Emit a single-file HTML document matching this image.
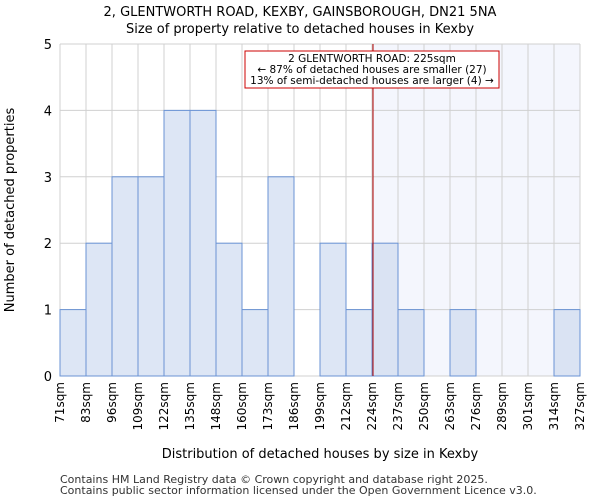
<!DOCTYPE html>
<html><head><meta charset="utf-8"><style>
body{margin:0;background:#fff;font-family:"DejaVu Sans","Liberation Sans",sans-serif}
</style></head><body>
<svg width="600" height="500" xmlns="http://www.w3.org/2000/svg" font-family="DejaVu Sans, Liberation Sans, sans-serif">
<text x="300" y="16" text-anchor="middle" font-size="13">2, GLENTWORTH ROAD, KEXBY, GAINSBOROUGH, DN21 5NA</text>
<text x="300" y="33" text-anchor="middle" font-size="13">Size of property relative to detached houses in Kexby</text>
<g id="plot"></g>
<text x="320" y="458" text-anchor="middle" font-size="13">Distribution of detached houses by size in Kexby</text>
<text transform="translate(14,210) rotate(-90)" text-anchor="middle" font-size="13">Number of detached properties</text>
<text x="60" y="483" font-size="11" fill="#333">Contains HM Land Registry data © Crown copyright and database right 2025.</text>
<text x="60" y="494" font-size="11" fill="#333">Contains public sector information licensed under the Open Government Licence v3.0.</text>
</svg>
<script>
const binLabels=["71sqm","83sqm","96sqm","109sqm","122sqm","135sqm","148sqm","160sqm","173sqm","186sqm","199sqm","212sqm","224sqm","237sqm","250sqm","263sqm","276sqm","289sqm","301sqm","314sqm","327sqm"];
const counts=[1,2,3,3,4,4,2,1,3,0,2,1,2,1,0,1,0,0,0,1];
const yTicks=[0,1,2,3,4,5];
const markerIndex=12;
const NS="http://www.w3.org/2000/svg";
const L=60,R=580,T=44,B=376,yMax=5;
const bw=(R-L)/counts.length;
const x=i=>L+i*bw, y=v=>B-(v/yMax)*(B-T);
const g=document.getElementById('plot');
function mk(tag,attrs){const e=document.createElementNS(NS,tag);for(const k in attrs)e.setAttribute(k,attrs[k]);g.appendChild(e);return e;}
let e=mk('rect',{x:x(markerIndex),y:T,width:R-x(markerIndex),height:B-T,fill:'#f4f6fd'});


for(let i=0;i<=counts.length;i++){e=mk('line',{x1:x(i),x2:x(i),y1:T,y2:B,stroke:'#d0d0d0','stroke-width':1});

}
yTicks.forEach(t=>{e=mk('line',{x1:L,x2:R,y1:y(t),y2:y(t),stroke:'#d0d0d0','stroke-width':1});


e=mk('text',{x:L-8,y:y(t)+5,'text-anchor':'end','font-size':13});e.textContent=t;

});
counts.forEach((c,i)=>{if(c<=0)return;e=mk('rect',{x:x(i),y:y(c),width:bw,height:B-y(c),fill:i>=markerIndex?'#dae3f3':'#dde6f5',stroke:'#6a93d4','stroke-width':1});

});
binLabels.forEach((lb,i)=>{e=mk('text',{transform:`translate(${x(i)+4},${B+6}) rotate(-90)`,'text-anchor':'end','font-size':12});e.textContent=lb;

});
e=mk('line',{x1:x(markerIndex)+1,x2:x(markerIndex)+1,y1:T,y2:B,stroke:'#b00000','stroke-width':1});


e=mk('rect',{x:245,y:51,width:254,height:37,fill:'#fff',stroke:'#cc0000','stroke-width':1});


["2 GLENTWORTH ROAD: 225sqm","← 87% of detached houses are smaller (27)","13% of semi-detached houses are larger (4) →"].forEach((s,k)=>{e=mk('text',{x:372,y:62+k*11,'text-anchor':'middle','font-size':10.5});e.textContent=s;

});
</script>
</body></html>
